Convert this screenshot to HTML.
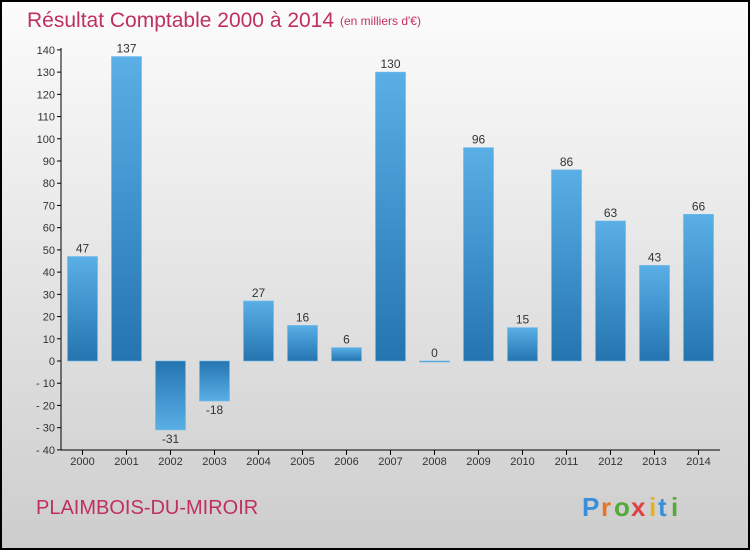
<!DOCTYPE html>
<html><head><meta charset="utf-8"><style>
body{margin:0;width:750px;height:550px;overflow:hidden}
svg{display:block;font-family:"Liberation Sans",sans-serif}
</style></head><body>
<svg width="750" height="550">
<defs>
<linearGradient id="bg" x1="0" y1="0" x2="0" y2="1"><stop offset="0" stop-color="#fcfcfc"/><stop offset="1" stop-color="#cdcdcd"/></linearGradient>
<linearGradient id="bp" x1="0" y1="0" x2="0" y2="1"><stop offset="0" stop-color="#5aafe6"/><stop offset="1" stop-color="#2474b0"/></linearGradient>
<linearGradient id="bn" x1="0" y1="0" x2="0" y2="1"><stop offset="0" stop-color="#2474b0"/><stop offset="1" stop-color="#5aafe6"/></linearGradient>
</defs>
<rect x="1" y="1" width="748" height="548" fill="url(#bg)" stroke="#000" stroke-width="2"/>
<text x="27" y="27" font-size="21" fill="#c0305e">Résultat Comptable 2000 à 2014</text>
<text x="340" y="25" font-size="12" fill="#c0305e">(en milliers d'€)</text>
<text x="36" y="514" font-size="20" fill="#c0305e">PLAIMBOIS-DU-MIROIR</text>
<g font-size="26" font-weight="bold">
<text x="582" y="516" fill="#3a8fd8">P</text><text x="601" y="516" fill="#e8742a">r</text><text x="614" y="516" fill="#55a83a">o</text><text x="631" y="516" fill="#e04040">x</text><text x="649" y="516" fill="#e8b020">i</text><text x="658" y="516" fill="#3a8fd8">t</text><text x="671" y="516" fill="#55a83a">i</text>
</g>
<g id="plot"></g>
</svg>
<script>
const categories=["2000","2001","2002","2003","2004","2005","2006","2007","2008","2009","2010","2011","2012","2013","2014"];
const values=[47,137,-31,-18,27,16,6,130,0,96,15,86,63,43,66];
const yTicks=[140,130,120,110,100,90,80,70,60,50,40,30,20,10,0,-10,-20,-30,-40];
const NS="http://www.w3.org/2000/svg";
const g=document.getElementById('plot');
const y=v=>361-v*400/180;
const x=i=>82.5+i*44;
function mk(t,a,txt){const e=document.createElementNS(NS,t);for(const k in a)e.setAttribute(k,a[k]);if(txt!==undefined)e.textContent=txt;g.appendChild(e);return e;}
let ax=mk('line',{x1:61,y1:48,x2:61,y2:450,stroke:'#000','stroke-width':1});


let bx=mk('line',{x1:61,y1:450,x2:720,y2:450,stroke:'#000','stroke-width':1});


yTicks.forEach(v=>{
 let t=mk('line',{x1:57,y1:y(v),x2:61,y2:y(v),stroke:'#000'});
 
 
 let l=mk('text',{x:55,y:y(v)+4,'font-size':11,fill:'#333','text-anchor':'end'},v<0?'- '+(-v):String(v));
 
 
});
categories.forEach((c,i)=>{
 const v=values[i];
 let t=mk('line',{x1:x(i),y1:450,x2:x(i),y2:455,stroke:'#000'});
 
 
 let l=mk('text',{x:x(i),y:465,'font-size':11,fill:'#333','text-anchor':'middle'},c);
 
 
 const top=Math.min(y(v),y(0)),h=Math.max(Math.abs(y(v)-y(0)),1);
 let b=mk('rect',{x:x(i)-15,y:top,width:30,height:h,fill:v>=0?'url(#bp)':'url(#bn)',stroke:'#6bb8ea','stroke-width':0.6});
 
 
 let vl=mk('text',{x:x(i),y:v>=0?y(v)-4:y(v)+13,'font-size':12,fill:'#333','text-anchor':'middle'},v<0?'-'+(-v):String(v));
 
 
});
</script>
</body></html>
